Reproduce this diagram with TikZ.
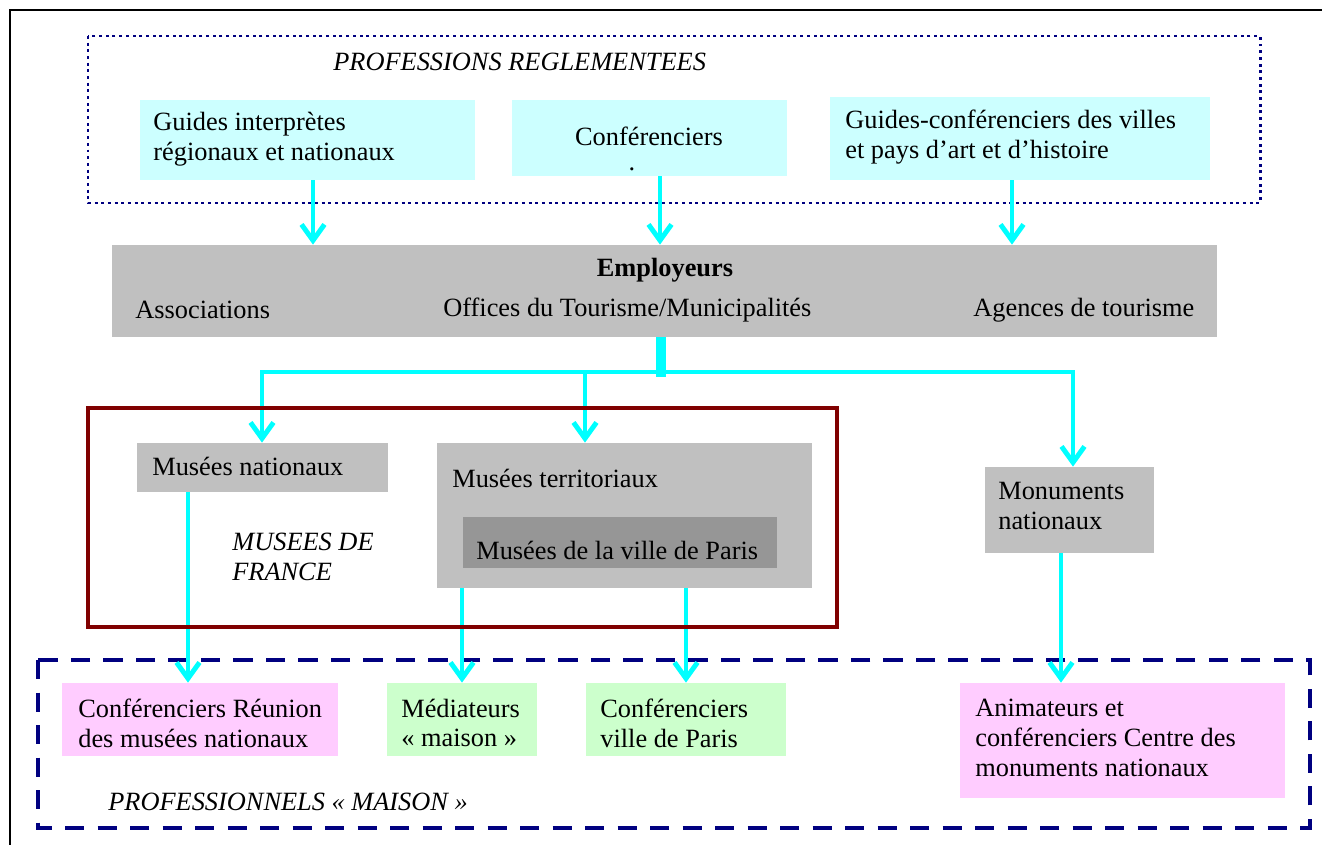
\documentclass[tikz,border=0pt]{standalone}
\usepackage{fontspec}
\setmainfont{Liberation Serif}
\usepackage{tikz}
\usetikzlibrary{arrows.meta,fit}
\definecolor{paleCyan}{HTML}{CCFFFF}
\definecolor{flowCyan}{HTML}{00FFFF}
\definecolor{boxGrey}{HTML}{C0C0C0}
\definecolor{darkGrey}{HTML}{969696}
\definecolor{palePink}{HTML}{FFCCFF}
\definecolor{paleGreen}{HTML}{CCFFCC}
\definecolor{frameNavy}{HTML}{000080}
\definecolor{frameRed}{HTML}{800000}
\tikzset{>=latex}

\begin{document}
\begin{tikzpicture}[x=0.02cm, y=-0.02cm]
        % coordinates are in pixels of the original chart, y going down
        \tikzstyle{every node}=[inner sep=0pt, font=\fontsize{15}{17}\selectfont]
        \tikzstyle{box}=[inner sep=0pt, draw=none]
        \tikzstyle{txt}=[anchor=west, align=left]
        \tikzstyle{groupname}=[txt, font=\fontsize{15}{17}\selectfont\itshape]
        \tikzstyle{flow}=[flowCyan, line width=2.8pt, -{Straight Barb[length=3.2mm, width=4.6mm]}]
        \useasboundingbox (0,0) rectangle (1322,845);

        \draw[line width=1pt] (10,845) -- (10,10) -- (1322,10);

        % professions reglementees
        \draw[frameNavy, line width=1.7pt, dash pattern=on 1.7pt off 2.1pt] (88,36) rectangle (1260,203);
        \node[groupname] (regl) at (333,62) {PROFESSIONS REGLEMENTEES};

        \node[box, fill=paleCyan, fit={(140,100) (475,180)}] (guides) {};
        \node[txt] (guidesT) at (153,139) {Guides interprètes\\régionaux et nationaux};
        \node[box, fill=paleCyan, fit={(512,100) (787,176)}] (conf) {};
        \node (confT) at (649,136) {Conférenciers};
        \node (confDot) at (632,169) {.};
        \node[box, fill=paleCyan, fit={(830,97) (1210,180)}] (vpah) {};
        \node[txt] (vpahT) at (845,137) {Guides-conférenciers des villes\\et pays d’art et d’histoire};

        % employeurs
        \node[box, fill=boxGrey, fit={(112,245) (1217,337)}] (emp) {};
        \node[font=\fontsize{15}{17}\selectfont\bfseries] (empT) at (665,270) {Employeurs};
        \node[txt] (assoc) at (135,310) {Associations};
        \node[txt] (offices) at (443,310) {Offices du Tourisme/Municipalités};
        \node[txt] (agences) at (973,310) {Agences de tourisme};

        \draw[flow] (guides.south -| 313,0) -- (313,0 |- emp.north);
        \draw[flow] (conf.south -| 660,0) -- (660,0 |- emp.north);
        \draw[flow] (vpah.south -| 1012,0) -- (1012,0 |- emp.north);

        % musees
        \node[box, fill=boxGrey, fit={(137,443) (388,492)}] (musnat) {};
        \node[txt] (musnatT) at (152,466) {Musées nationaux};
        \node[box, fill=boxGrey, fit={(437,443) (812,588)}] (mterr) {};
        \node[txt] (mterrT) at (452,478) {Musées territoriaux};
        \node[box, fill=darkGrey, fit={(463,517) (777,568)}] (mparis) {};
        \node[txt] (mparisT) at (476,550) {Musées de la ville de Paris};
        \node[groupname] (france) at (232,557) {MUSEES DE\\FRANCE};
        \node[box, fill=boxGrey, fit={(985,467) (1154,553)}] (monu) {};
        \node[txt] (monuT) at (998,506) {Monuments\\nationaux};

        \coordinate (busL) at (262,372);
        \coordinate (busM) at (585,372);
        \coordinate (busC) at (661,377);
        \coordinate (busR) at (1073,372);
        \draw[flowCyan, line width=5.7pt] (busC |- emp.south) -- (busC);
        \draw[flowCyan, line width=2.8pt, line cap=rect] (busL) -- (busR);
        \draw[flow] (busL) -- (busL |- musnat.north);
        \draw[flow] (busM) -- (busM |- mterr.north);
        \draw[flow] (busR) -- (busR |- monu.north);

        % professionnels maison
        \draw[frameNavy, line width=2.3pt, dash pattern=on 11pt off 7.5pt] (38,660) rectangle (1310,828);
        \node[box, fill=palePink, fit={(62,683) (338,756)}] (rmn) {};
        \node[txt] (rmnT) at (78,723) {Conférenciers Réunion\\des musées nationaux};
        \node[box, fill=paleGreen, fit={(387,683) (537,756)}] (medi) {};
        \node[txt] (mediT) at (401,723) {Médiateurs\\« maison »};
        \node[box, fill=paleGreen, fit={(586,683) (786,756)}] (cvp) {};
        \node[txt] (cvpT) at (600,723) {Conférenciers\\ville de Paris};
        \node[box, fill=palePink, fit={(960,683) (1285,798)}] (cmn) {};
        \node[txt] (cmnT) at (975,738) {Animateurs et\\conférenciers Centre des\\monuments nationaux};
        \node[groupname] (maison) at (108,802) {PROFESSIONNELS « MAISON »};

        \draw[flow] (musnat.south -| 188,0) -- (188,0 |- rmn.north);
        \draw[flow] (mterr.south -| 462,0) -- (462,0 |- medi.north);
        \draw[flow] (mterr.south -| 686,0) -- (686,0 |- cvp.north);
        \draw[flow] (monu.south -| 1061,0) -- (1061,0 |- cmn.north);

        \draw[frameRed, line width=2.3pt] (88,408) rectangle (837,627);
\end{tikzpicture}
\end{document}
